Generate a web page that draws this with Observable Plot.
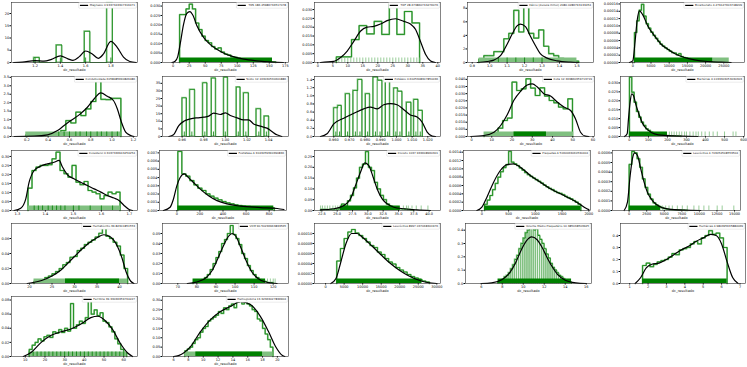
<!DOCTYPE html>
<html><head><meta charset="utf-8">
<script src="https://cdn.jsdelivr.net/npm/d3@7"></script>
<script src="https://cdn.jsdelivr.net/npm/@observablehq/plot@0.6"></script>
<style>
html,body{margin:0;padding:0;background:#fff;}
#root{position:relative;width:747px;height:367px;overflow:hidden;font-family:"DejaVu Sans",sans-serif;}
#root svg{position:absolute;overflow:visible;}
</style></head><body><div id="root"></div>
<script>
// ---------------- DATA ----------------
const legendLabels = [
 "Magnesio 0.9337343307316471","TDS 186.45986736517078","TOF 28.673860733276076",
 "Cálcio (dureza mmol) 2080.0286793133454","Bicarbonato 4.279127603748209",
 "Condutividade 6058485690826486","Sódio 12.163030530601886","Potássio 0.6025308307854436",
 "Cota 12.363860359713719","Bactérias 4.1033303053030303",
 "Colesterol 0.3037336943254254","Fosfatase A 3043059390390836","Cloreto 1037.933608960301",
 "Plaquetas A 5060063060530404","Leucócitos 4.703054508553504",
 "Hematócrito 39.82301851553","VCM 90.50236963833565","Leucócitos 8997.037068301976",
 "Volume Médio Plaquetário 10.385038503925","Hemácias 4.980395635884069",
 "Ferritina 39.33036359764227","Hemoglobina 13.32363027836904"
];
const xLabel = "dc_resultado";

// 1 Magnesio
const p1_xTicks=[1.2,1.4,1.6,1.8], p1_yTicks=[0,5,10,15,20];
const p1_bars=[[1.19,1.2345,2.0],[1.368,1.4125,7.1],[1.5905,1.635,12.7],[1.7685,1.813,24.3]];
const p1_kde=[[1.03,0],[1.1,0.15],[1.2,0.75],[1.27,0.55],[1.33,1.3],[1.4,2.7],[1.46,1.5],[1.5,0.9],[1.55,2.4],[1.6,4.7],[1.65,3.6],[1.7,1.7],[1.74,3.4],[1.8,8.6],[1.85,6.2],[1.9,2.2],[1.95,0.4],[2.0,0]];
const p1_rug=[1.2,1.4,1.6,1.8];

// 2 TDS
const p2_xTicks=[0,25,50,75,100,125,150,175], p2_yTicks=[0,0.005,0.01,0.015,0.02,0.025,0.03];
const p2_bins=[10,5];
const p2_counts=[0.0255,0.0255,0.0285,0.031,0.0285,0.021,0.0175,0.014,0.0117,0.0105,0.0085,0.0072,0.0078,0.0055,0.0045,0.004,0.003,0.0028,0.0022,0.002,0.0017,0.0013,0.0012,0.001,0.0009,0.0008,0.0005,0.0006,0.0004,0.0003];
const p2_kde=[[-2,0],[3,0.0007],[7,0.003],[11,0.01],[16,0.02],[21,0.026],[26,0.0271],[31,0.025],[37,0.0195],[48,0.0131],[58,0.0095],[68,0.007],[80,0.0048],[90,0.0035],[110,0.0018],[130,0.0009],[155,0.0002],[172,0]];
const p2_rugBand=[10,155];

// 3 TOF
const p3_xTicks=[0,5,10,15,20,25,30,35,40], p3_yTicks=[0,0.005,0.01,0.015,0.02,0.025,0.03];
const p3_bins=[6.2,2.52];
const p3_counts=[0.0032,0.0032,0.013,0.0209,0.0162,0.0233,0.0159,0.033,0.0159,0.0289,0.0224];
const p3_kde=[[0.9,0],[5.3,0.0006],[7.6,0.0028],[9.8,0.0065],[12,0.012],[14.2,0.0177],[16.4,0.02],[18.7,0.0205],[20.9,0.0218],[23.1,0.0237],[25.9,0.0248],[28.7,0.0233],[30.9,0.0218],[32.6,0.0187],[34.2,0.012],[35.9,0.0047],[37.6,0.0009],[39.2,0]];
const p3_rug=[6,7,8,9,10,11,12,13,14,15,16,17,18,19,20,21,22,23,24,25,26,27,28,29,30,31,32,33,34];

// 4 Cálcio
const p4_xTicks=[0.9,1.0,1.1,1.2,1.3,1.4,1.5], p4_yTicks=[0,2,4,6,8];
const p4_bins=[0.938,0.0286];
const p4_counts=[0.5,1.0,1.0,1.6,1.6,3.5,4.3,7.7,4.5,8.6,4.3,3.6,4.8,2.4,1.3,1.0,0.6,0.3,0.4,0.2];
const p4_kde=[[0.929,0],[0.986,0.15],[1.024,0.35],[1.062,1.0],[1.1,2.7],[1.129,4.2],[1.157,5.4],[1.176,5.65],[1.205,5.3],[1.233,3.9],[1.262,2.5],[1.29,1.3],[1.329,0.65],[1.386,0.25],[1.462,0.05],[1.51,0]];
const p4_rugLight=[0.94,1.5];
const p4_rug=[1.05,1.1,1.15,1.2,1.25,1.3];

// 5
const p5_xTicks=[0,5000,10000,15000,20000,25000], p5_yTicks=[0,2e-5,4e-5,6e-5,8e-5,10e-5,12e-5,14e-5,16e-5];
const p5_bins=[455,640];
const p5_counts=[8.2e-5,11.4e-5,14.3e-5,15.9e-5,12.7e-5,10.6e-5,9.4e-5,8.3e-5,7.4e-5,6.6e-5,5.8e-5,5.0e-5,4.5e-5,4.0e-5,3.55e-5,3.1e-5,2.7e-5,2.6e-5,2.1e-5,2.4e-5,1.6e-5,1.36e-5,1.2e-5,1.05e-5,0.9e-5,0.76e-5,0.66e-5,0.58e-5,0.5e-5,0.42e-5,0.35e-5,0.27e-5,0.24e-5,0.2e-5,0.17e-5,0.14e-5,0.11e-5,0.09e-5,0.07e-5,0.05e-5];
const p5_kde=[[-915,0],[0,0.45e-5],[641,5.9e-5],[1190,11.4e-5],[1830,14.1e-5],[2747,13e-5],[4120,10e-5],[5950,7.3e-5],[7780,5e-5],[9620,3.6e-5],[11450,2.45e-5],[14200,1.36e-5],[16940,0.73e-5],[20600,0.27e-5],[24270,0.09e-5],[27000,0]];
const p5_rugBand=[455,22000], p5_rugLight=[22000,26500];

// 6
const p6_xTicks=[0.2,0.4,0.6,0.8,1.0,1.2], p6_yTicks=[0,0.5,1,1.5,2,2.5,3,3.5];
const p6_bins=[0.19,0.047];
const p6_counts=[0.1,0.08,0.06,0.05,0.06,0.1,0.15,0.35,0.94,0.8,1.44,1.24,1.63,2.07,3.44,2.2,2.18,2.26,2.26];
const p6_kde=[[0.081,0],[0.269,0.02],[0.394,0.1],[0.488,0.35],[0.55,0.65],[0.613,0.94],[0.691,1.28],[0.769,1.73],[0.831,2.22],[0.894,2.58],[0.956,2.38],[1.013,2.13],[1.05,1.63],[1.088,0.85],[1.128,0.26],[1.175,0.06],[1.206,0]];
const p6_rugLight=[0.19,1.083];
const p6_rug=[0.5,0.55,0.6,0.66,0.7,0.76,0.8,0.86,0.9,0.95,1.0,1.05];

// 7
const p7_xTicks=[0.96,0.98,1.00,1.02,1.04], p7_yTicks=[0,5,10,15,20,25,30,35];
const p7_bars=[[0.96,0.964,25.4],[0.9671,0.9717,30.9],[0.9791,0.9831,35.3],[0.9871,0.9911,38.4],[0.9985,1.0022,39],[1.0102,1.0138,32.5],[1.0169,1.0215,28.7],[1.0286,1.0329,18.2],[1.036,1.0403,13.4]];
const p7_kde=[[0.9477,0],[0.952,1.1],[0.9569,7.2],[0.9615,10],[0.9677,11.6],[0.9738,12.3],[0.98,12.7],[0.9846,13.4],[0.9892,15.4],[0.9954,14.5],[1.0,15.6],[1.0046,13.8],[1.0108,12.3],[1.0169,11],[1.0215,11],[1.0262,8.3],[1.0323,6.8],[1.0385,5.5],[1.0431,3.3],[1.0477,1.1],[1.0523,0]];
const p7_rug=[0.962,0.969,0.981,0.989,1.0,1.012,1.019,1.031,1.038];

// 8
const p8_xTicks=[0.96,0.97,0.98,0.99,1.0,1.01,1.02], p8_yTicks=[0,0.2,0.4,0.6,0.8,1.0,1.2,1.4];
const p8_bars=[[0.96,0.96255,0.705],[0.96255,0.96489,0.762],[0.96745,0.97021,1.05],[0.97234,0.97532,1.13],[0.97532,0.97809,1.40],[0.98021,0.98298,1.05],[0.98511,0.98809,1.46],[0.98809,0.99085,1.38],[0.99298,0.99574,1.40],[0.9983,1.00085,1.19],[1.00085,1.00362,1.11],[1.00638,1.00936,0.84],[1.01106,1.01383,0.91],[1.01383,1.0166,0.64]];
const p8_kde=[[0.9515,0],[0.9557,0.066],[0.96,0.31],[0.9664,0.45],[0.9728,0.57],[0.9791,0.68],[0.9834,0.72],[0.9877,0.68],[0.9919,0.78],[0.9962,0.81],[1.0004,0.78],[1.0047,0.66],[1.0089,0.53],[1.0132,0.48],[1.0164,0.35],[1.0196,0.11],[1.0228,0.01],[1.0249,0]];
const p8_rug=[0.9613,0.9637,0.9688,0.9738,0.9767,0.9816,0.9866,0.9895,0.9944,0.9996,1.0022,1.0079,1.0124,1.0152];

// 9
const p9_xTicks=[0,10,20,30,40,50,60], p9_yTicks=[0,0.005,0.01,0.015,0.02,0.025,0.03,0.035,0.04];
const p9_bins=[6.23,2.295];
const p9_counts=[0.0007,0.0012,0.0026,0.0058,0.0112,0.0129,0.0381,0.0322,0.0334,0.0404,0.0339,0.0287,0.0341,0.0283,0.0252,0.0236,0.0206,0.0194,0.0264];
const p9_kde=[[-0.33,0],[6.2,0.0007],[11.1,0.003],[14.4,0.0077],[17.7,0.0154],[21,0.0255],[24.3,0.0318],[27.5,0.036],[30,0.0369],[32.5,0.0346],[35.7,0.03],[39,0.0283],[42.3,0.0241],[45.6,0.0206],[48.9,0.0182],[51.3,0.0124],[53.8,0.003],[56.2,0.0002],[57.9,0]];
const p9_rugLight=[6.2,50.5], p9_rugBand=[21,37];

// 10
const p10_xTicks=[0,100,200,300,400,500,600], p10_yTicks=[0,0.005,0.01,0.015,0.02,0.025,0.03];
const p10_bins=[0,12.3];
const p10_counts=[0.0332,0.0248,0.0192,0.014,0.0108,0.008,0.0062,0.0043,0.0034,0.0024,0.0019,0.0015,0.0011,0.0009,0.0007,0.0006,0.0005,0.0004,0.0004,0.0003,0.0003,0.0002];
const p10_kde=[[-26,0],[-12,0.0015],[-5,0.0099],[3.5,0.0192],[12.3,0.0239],[21,0.0229],[35,0.0174],[52.6,0.0118],[70,0.0071],[96.5,0.0037],[131.6,0.0015],[184,0.0006],[272,0.0002],[360,0]];
const p10_rugBand=[0,200];
const p10_rugLightTicks=[210,222,235,248,262,275,290,300,318,335,350,362,380,398,420,440,462,500,545,560];

// 11
const p11_xTicks=[1.3,1.4,1.5,1.6,1.7], p11_yTicks=[0,0.05,0.1,0.15,0.2,0.25,0.3];
const p11_bins=[1.338,0.01429];
const p11_counts=[0.124,0.222,0.241,0.25,0.25,0.254,0.287,0.324,0.222,0.204,0.185,0.25,0.157,0.143,0.161,0.111,0.102,0.093,0.065,0.083,0.102,0.093,0.102];
const p11_kde=[[1.288,0],[1.312,0.013],[1.33,0.065],[1.342,0.157],[1.36,0.222],[1.383,0.246],[1.407,0.259],[1.431,0.268],[1.449,0.278],[1.461,0.241],[1.479,0.198],[1.502,0.176],[1.526,0.157],[1.55,0.139],[1.574,0.12],[1.598,0.102],[1.621,0.083],[1.645,0.069],[1.663,0.056],[1.681,0.028],[1.699,0.006],[1.711,0]];
const p11_rugLight=[1.338,1.667];
const p11_rug=[1.36,1.375,1.39,1.41,1.425,1.44,1.455,1.47,1.5,1.52,1.56,1.6,1.64];

// 12
const p12_xTicks=[0,200,400,600,800], p12_yTicks=[0,0.001,0.002,0.003,0.004,0.005,0.006,0.007];
const p12_bins=[8.7,34.8];
const p12_counts=[0.00717,0.00445,0.00417,0.00364,0.00312,0.00271,0.00243,0.00202,0.00174,0.0015,0.0013,0.00109,0.00093,0.00081,0.00069,0.00061,0.00053,0.00049,0.00045,0.0004,0.00036,0.00036,0.00032,0.00032];
const p12_kde=[[-116,0],[-58,0.0004],[-29,0.0014],[0,0.003],[29,0.004],[64,0.00445],[101,0.004],[145,0.0034],[203,0.0026],[275,0.0018],[348,0.0012],[435,0.0008],[551,0.00053],[725,0.00036],[870,0.00024],[928,0.00012]];
const p12_rugBand=[8.7,840];

// 13
const p13_xTicks=[22.5,25,27.5,30,32.5,35,37.5,40], p13_yTicks=[0,0.05,0.1,0.15,0.2,0.25];
const p13_bins=[22.28,0.489];
const p13_counts=[0.005,0.005,0.004,0.005,0.004,0.006,0.008,0.03,0.02,0.045,0.07,0.105,0.15,0.2,0.215,0.273,0.2,0.185,0.13,0.1,0.07,0.05,0.03,0.02,0.015,0.01,0.008,0.007,0.006,0.005,0.003];
const p13_kde=[[22.28,0.003],[24.46,0.008],[26.09,0.023],[27.17,0.054],[27.99,0.116],[28.8,0.177],[29.51,0.221],[30.16,0.208],[30.87,0.154],[31.52,0.1],[32.34,0.054],[33.15,0.031],[34.24,0.015],[35.87,0.008],[38.04,0.003],[40.22,0]];
const p13_rugBand=[25.5,35.3];
const p13_rugLightTicks=[22.3,22.6,23,23.4,23.8,24.3,24.7,25.1,35.8,36.3,36.6,37.2,37.9,38.7,39.8];

// 14
const p14_xTicks=[0,500,1000,1500,2000], p14_yTicks=[0,0.0002,0.0004,0.0006,0.0008,0.001,0.0012,0.0014];
const p14_bins=[50,50];
const p14_counts=[1.5e-4,2.5e-4,3.6e-4,5e-4,6.5e-4,8e-4,9.3e-4,10.3e-4,11e-4,14.2e-4,11.6e-4,11.2e-4,10.8e-4,10.2e-4,9.7e-4,9.1e-4,8.6e-4,8.2e-4,7.8e-4,7.4e-4,7e-4,6.6e-4,6.1e-4,5.7e-4,5.3e-4,5e-4,4.6e-4,4.3e-4,4.1e-4,3.8e-4,3.4e-4,3.1e-4,2.8e-4,2.4e-4,2e-4,1.5e-4];
const p14_kde=[[-94,0],[0,0.00008],[94,0.00032],[219,0.00068],[344,0.00096],[469,0.0011],[594,0.00112],[719,0.00104],[906,0.00084],[1094,0.00068],[1281,0.00052],[1469,0.0004],[1594,0.00032],[1719,0.00024],[1844,0.00014],[1938,0.00006],[2000,0.00002]];
const p14_rugBand=[50,1850];

// 15
const p15_xTicks=[0,2500,5000,7500,10000,12500,15000], p15_yTicks=[0,0.0001,0.0002,0.0003,0.0004,0.0005,0.0006];
const p15_bins=[0,378];
const p15_counts=[4.8e-4,6.15e-4,6.0e-4,5.4e-4,4.5e-4,3.3e-4,2.4e-4,1.7e-4,1.2e-4,0.8e-4,0.55e-4,0.4e-4,0.3e-4,0.2e-4,0.15e-4,0.1e-4,0.08e-4,0.06e-4,0.05e-4,0.04e-4,0.03e-4,0.02e-4];
const p15_kde=[[-710,0],[-236,0.000087],[142,0.00036],[473,0.00054],[804,0.0006],[1183,0.000573],[1656,0.000434],[2129,0.000295],[2600,0.00019],[3311,0.000104],[4257,0.000045],[5440,0.000017],[7800,0.000003],[10200,0]];
const p15_rugBand=[0,4500];
const p15_rugLightTicks=[4730,5200,5680,6150,6860,7570,8280,9220,9930,10640,11350,12530,13240,14900];

// 16
const p16_xTicks=[20,25,30,35,40], p16_yTicks=[0,0.02,0.04,0.06];
const p16_bins=[21,0.8];
const p16_counts=[0.003,0.005,0.004,0.008,0.01,0.013,0.016,0.02,0.025,0.028,0.035,0.036,0.044,0.047,0.052,0.055,0.058,0.062,0.067,0.075,0.063,0.06,0.055,0.05,0.038,0.02];
const p16_kde=[[19.5,0],[22.7,0.004],[25,0.01],[27,0.018],[29,0.03],[31,0.042],[33,0.053],[35,0.061],[36.5,0.065],[38,0.062],[39.5,0.05],[40.5,0.035],[41.5,0.015],[42.5,0.003],[43.2,0]];
const p16_rugLight=[21,41.8], p16_rugBand=[28,40];

// 17
const p17_xTicks=[70,80,90,100,110,120], p17_yTicks=[0,0.01,0.02,0.03,0.04,0.05];
const p17_bins=[78,1.5];
const p17_counts=[0.001,0.002,0.003,0.004,0.006,0.009,0.014,0.02,0.026,0.032,0.04,0.044,0.05,0.058,0.049,0.045,0.039,0.03,0.025,0.018,0.013,0.009,0.006,0.004,0.003,0.002,0.001,0.001];
const p17_kde=[[75,0],[80,0.0015],[85,0.006],[88,0.013],[91,0.025],[94,0.038],[96.5,0.047],[98.5,0.05],[100.5,0.047],[103,0.036],[106,0.022],[109,0.011],[112,0.005],[116,0.0015],[122,0]];
const p17_rugBand=[78,116];
const p17_rugLightTicks=[117,118.5,120,121];

// 18
const p18_xTicks=[0,5000,10000,15000,20000,25000,30000], p18_yTicks=[0,2e-5,4e-5,6e-5,8e-5,10e-5];
const p18_bins=[3000,1000];
const p18_counts=[4.5e-5,7e-5,9e-5,10.3e-5,10.8e-5,10.1e-5,9.6e-5,9e-5,8.3e-5,7.6e-5,7.2e-5,6.3e-5,5.8e-5,5e-5,4.3e-5,3.9e-5,3.2e-5,2.7e-5,2.3e-5,1.8e-5,1.4e-5,1.1e-5,0.8e-5,0.5e-5,0.3e-5];
const p18_kde=[[1400,0],[2800,1e-5],[4000,4e-5],[5500,8e-5],[7000,10e-5],[8500,10e-5],[10000,9.2e-5],[12500,7.5e-5],[15000,5.7e-5],[17500,4e-5],[20000,2.6e-5],[22500,1.5e-5],[25000,0.7e-5],[27500,0.2e-5],[30000,0]];
const p18_rugBand=[3000,26000];

// 19
const p19_xTicks=[6,8,10,12,14,16], p19_yTicks=[0,0.1,0.2,0.3,0.4];
const p19_bins=[7.6,0.2];
const p19_counts=[0.01,0.02,0.03,0.05,0.06,0.08,0.11,0.14,0.18,0.21,0.26,0.3,0.34,0.38,0.4,0.44,0.42,0.4,0.41,0.36,0.33,0.3,0.26,0.22,0.19,0.15,0.12,0.1,0.08,0.06,0.05,0.035,0.025,0.015,0.01];
const p19_kde=[[6,0],[7,0.005],[8,0.03],[8.7,0.08],[9.3,0.16],[9.8,0.25],[10.3,0.32],[10.8,0.35],[11.3,0.33],[11.8,0.27],[12.3,0.19],[12.8,0.12],[13.3,0.065],[14,0.025],[15,0.005],[16,0]];
const p19_rugBand=[7.6,14.6];

// 20
const p20_xTicks=[1,2,3,4,5,6,7], p20_yTicks=[0,0.1,0.2,0.3,0.4];
const p20_bins=[1.7,0.2];
const p20_counts=[0.15,0.17,0.14,0.16,0.18,0.19,0.2,0.22,0.25,0.24,0.28,0.29,0.3,0.33,0.35,0.33,0.38,0.4,0.44,0.41,0.42,0.38,0.3];
const p20_kde=[[1.3,0],[1.6,0.05],[1.9,0.13],[2.2,0.16],[2.6,0.17],[3.0,0.2],[3.4,0.24],[3.8,0.28],[4.2,0.31],[4.6,0.35],[5.0,0.38],[5.4,0.41],[5.7,0.4],[6.0,0.33],[6.3,0.18],[6.6,0.05],[6.9,0]];
const p20_rugBand=[1.7,6.3];

// 21
const p21_xTicks=[10,20,30,40,50,60], p21_yTicks=[0,0.02,0.04,0.06,0.08];
const p21_bins=[12,1.5];
const p21_counts=[0.01,0.016,0.02,0.025,0.022,0.028,0.03,0.027,0.035,0.033,0.038,0.034,0.04,0.036,0.075,0.04,0.045,0.05,0.047,0.055,0.08,0.06,0.066,0.058,0.062,0.05,0.048,0.042,0.035,0.025,0.018,0.01,0.005];
const p21_kde=[[9,0],[13.1,0.006],[18.1,0.02],[23.2,0.03],[28.2,0.035],[33.2,0.039],[38.3,0.046],[43.3,0.055],[46.8,0.057],[50.9,0.05],[54.4,0.038],[58.4,0.018],[62,0.005],[64.5,0]];
const p21_rugLight=[12,61.5];
const p21_rug=[12,14,16,18,20,22,24,26,28,30,32,34,36,38,40,42,44,46,48,50,52,54,56,58,60];

// 22
const p22_xTicks=[6,8,10,12,14,16,18,20], p22_yTicks=[0,0.05,0.1,0.15,0.2,0.25,0.3];
const p22_bins=[7.5,0.35];
const p22_counts=[0.03,0.04,0.05,0.07,0.09,0.1,0.13,0.15,0.16,0.19,0.2,0.21,0.22,0.24,0.23,0.26,0.25,0.27,0.28,0.26,0.29,0.31,0.28,0.3,0.28,0.27,0.25,0.24,0.2,0.19,0.15,0.12,0.09,0.05];
const p22_kde=[[6,0],[6.66,0.005],[8.28,0.053],[9.63,0.133],[10.98,0.197],[12.33,0.24],[13.67,0.267],[15.02,0.293],[16.37,0.277],[17.72,0.213],[18.8,0.133],[19.75,0.053],[20.69,0.005],[21,0]];
const p22_rugLight=[7.5,19.4], p22_rugBand=[9,18];

// ---------------- PANEL SPECS (scales) ----------------
const panels=[
 {xd:[1.013,2.011],yd:[0,24.5],xt:p1_xTicks,yt:p1_yTicks,xf:".1f",yf:"d",bars:p1_bars,kde:p1_kde,rug:p1_rug},
 {xd:[-16.7,180],yd:[0,0.0319],xt:p2_xTicks,yt:p2_yTicks,xf:"d",yf:".3f",bins:p2_bins,counts:p2_counts,kde:p2_kde,band:p2_rugBand},
 {xd:[-1.1,40.9],yd:[0,0.034],xt:p3_xTicks,yt:p3_yTicks,xf:"d",yf:".3f",bins:p3_bins,counts:p3_counts,kde:p3_kde,rugL:p3_rug},
 {xd:[0.873,1.595],yd:[0,8.85],xt:p4_xTicks,yt:p4_yTicks,xf:".1f",yf:"d",bins:p4_bins,counts:p4_counts,kde:p4_kde,light:p4_rugLight,rug:p4_rug},
 {xd:[-3380,30690],yd:[0,0.000164],xt:p5_xTicks,yt:p5_yTicks,xf:"d",yf:".5f",bins:p5_bins,counts:p5_counts,kde:p5_kde,band:p5_rugBand,light:p5_rugLight},
 {xd:[0.056,1.239],yd:[0,3.55],xt:p6_xTicks,yt:p6_yTicks,xf:".1f",yf:".1f",bins:p6_bins,counts:p6_counts,kde:p6_kde,light:p6_rugLight,rug:p6_rug},
 {xd:[0.9418,1.0585],yd:[0,39.5],xt:p7_xTicks,yt:p7_yTicks,xf:".2f",yf:"d",bars:p7_bars,kde:p7_kde,rug:p7_rug},
 {xd:[0.9477,1.0281],yd:[0,1.475],xt:p8_xTicks,yt:p8_yTicks,xf:".3f",yf:".1f",bars:p8_bars,kde:p8_kde,rug:p8_rug},
 {xd:[-1.97,60.7],yd:[0,0.042],xt:p9_xTicks,yt:p9_yTicks,xf:"d",yf:".3f",bins:p9_bins,counts:p9_counts,kde:p9_kde,light:p9_rugLight,band:p9_rugBand},
 {xd:[-47,605],yd:[0,0.0336],xt:p10_xTicks,yt:p10_yTicks,xf:"d",yf:".3f",bins:p10_bins,counts:p10_counts,kde:p10_kde,band:p10_rugBand,rugL:p10_rugLightTicks},
 {xd:[1.279,1.729],yd:[0,0.333],xt:p11_xTicks,yt:p11_yTicks,xf:".1f",yf:".2f",bins:p11_bins,counts:p11_counts,kde:p11_kde,light:p11_rugLight,rug:p11_rug},
 {xd:[-150,950],yd:[0,0.00729],xt:p12_xTicks,yt:p12_yTicks,xf:"d",yf:".3f",bins:p12_bins,counts:p12_counts,kde:p12_kde,band:p12_rugBand},
 {xd:[21.3,41.85],yd:[0,0.278],xt:p13_xTicks,yt:p13_yTicks,xf:".1f",yf:".2f",bins:p13_bins,counts:p13_counts,kde:p13_kde,band:p13_rugBand,rugL:p13_rugLightTicks},
 {xd:[-344,2031],yd:[0,0.00144],xt:p14_xTicks,yt:p14_yTicks,xf:"d",yf:".4f",bins:p14_bins,counts:p14_counts,kde:p14_kde,band:p14_rugBand},
 {xd:[-2367,15850],yd:[0,0.000625],xt:p15_xTicks,yt:p15_yTicks,xf:"d",yf:".4f",bins:p15_bins,counts:p15_counts,kde:p15_kde,band:p15_rugBand,rugL:p15_rugLightTicks},
 {xd:[16,44],yd:[0,0.08],xt:p16_xTicks,yt:p16_yTicks,xf:"d",yf:".2f",bins:p16_bins,counts:p16_counts,kde:p16_kde,light:p16_rugLight,band:p16_rugBand},
 {xd:[62,128],yd:[0,0.06],xt:p17_xTicks,yt:p17_yTicks,xf:"d",yf:".2f",bins:p17_bins,counts:p17_counts,kde:p17_kde,band:p17_rugBand,rugL:p17_rugLightTicks},
 {xd:[-3000,31000],yd:[0,0.00012],xt:p18_xTicks,yt:p18_yTicks,xf:"d",yf:".5f",bins:p18_bins,counts:p18_counts,kde:p18_kde,band:p18_rugBand},
 {xd:[4.5,16.5],yd:[0,0.45],xt:p19_xTicks,yt:p19_yTicks,xf:"d",yf:".1f",bins:p19_bins,counts:p19_counts,kde:p19_kde,band:p19_rugBand,rects:true},
 {xd:[0.5,7.3],yd:[0,0.5],xt:p20_xTicks,yt:p20_yTicks,xf:"d",yf:".1f",bins:p20_bins,counts:p20_counts,kde:p20_kde,band:p20_rugBand},
 {xd:[3,67],yd:[0,0.085],xt:p21_xTicks,yt:p21_yTicks,xf:"d",yf:".2f",bins:p21_bins,counts:p21_counts,kde:p21_kde,light:p21_rugLight,rug:p21_rug},
 {xd:[4.5,21.5],yd:[0,0.32],xt:p22_xTicks,yt:p22_yTicks,xf:"d",yf:".2f",bins:p22_bins,counts:p22_counts,kde:p22_kde,light:p22_rugLight,band:p22_rugBand}
];

// ---------------- LAYOUT (frame boxes in page px) ----------------
const frames=[
 [11,137,2,62],[162,288,2,62],[314,440,2,62],[467,593,2,62],[620,744,2,62],
 [11,137,76,136],[162,288,76,136],[314,440,76,136],[467,594,76,136],[620,744,76,136],
 [11,137,150,210],[159,286,150,210],[314,440,150,210],[463,590,150,210],[612,740,150,210],
 [11,137,223,283],[162,288,223,283],[314,440,223,283],[465,591,223,283],[620,745,223,283],
 [11,137,296,356],[162,288,296,356]
];

// ---------------- RENDER ----------------
const DARK="#008000", LIGHT="#80c080";
const root=document.getElementById("root");
const RUG=4.5, FS=3.5;

function binTable(p){
  if(p.bars) return p.bars.map(([x1,x2,y])=>({x1,x2,y}));
  const [x0,w]=p.bins;
  return p.counts.map((y,i)=>({x1:x0+i*w,x2:x0+(i+1)*w,y}));
}
function stepTable(bins){
  const pts=[]; let prev=null;
  for(const b of bins){
    if(prev===null||Math.abs(b.x1-prev)>1e-12){ if(prev!==null) pts.push({x:prev,y:0}); pts.push({x:b.x1,y:0}); }
    pts.push({x:b.x1,y:b.y}); pts.push({x:b.x2,y:b.y}); prev=b.x2;
  }
  pts.push({x:prev,y:0});
  return pts;
}

panels.forEach((p,i)=>{
  const [fx0,fx1,fy0,fy1]=frames[i];
  const ML=28,MR=3,MT=3,MB=14;
  const W=fx1-fx0,H=fy1-fy0;
  const bins=binTable(p);
  const steps=stepTable(bins);
  const marks=[];
  if(p.bars||p.rects) marks.push(Plot.rect(bins,{x1:"x1",x2:"x2",y1:0,y2:"y",fill:"none",stroke:LIGHT,strokeWidth:1.2}));
  else marks.push(Plot.line(steps,{x:"x",y:"y",stroke:LIGHT,strokeWidth:1.7}));
  marks.push(Plot.line(steps,{x:"x",y:"y",stroke:DARK,strokeWidth:0.7}));
  if(p.light) marks.push(Plot.rect([p.light],{x1:d=>d[0],x2:d=>d[1],fill:LIGHT,insetTop:H-RUG}));
  if(p.band) marks.push(Plot.rect([p.band],{x1:d=>d[0],x2:d=>d[1],fill:DARK,insetTop:H-RUG}));
  if(p.rugL) marks.push(Plot.ruleX(p.rugL,{x:d=>d,stroke:LIGHT,strokeWidth:0.8,insetTop:H-RUG}));
  if(p.rug) marks.push(Plot.ruleX(p.rug,{x:d=>d,stroke:DARK,strokeWidth:0.8,insetTop:H-RUG}));
  marks.push(Plot.line(p.kde,{x:d=>d[0],y:d=>d[1],curve:"monotone-x",stroke:"black",strokeWidth:1.2}));
  marks.push(Plot.axisX({ticks:p.xt,tickFormat:d3.format(p.xf),tickSize:1.5,tickPadding:0.6,fontSize:FS,label:null}));
  marks.push(Plot.axisY({ticks:p.yt,tickFormat:d3.format(p.yf),tickSize:1.5,tickPadding:0.8,fontSize:FS,label:null}));
  marks.push(Plot.frame({stroke:"#333",strokeWidth:0.6}));
  marks.push(Plot.text([xLabel],{frameAnchor:"bottom",dy:8.6,fontSize:FS,fill:"#222"}));
  marks.push(Plot.text([legendLabels[i]],{frameAnchor:"top-right",dx:-2.4,dy:1.9,textAnchor:"end",lineAnchor:"top",fontSize:2.8,fill:"#222"}));
  const svg=Plot.plot({
    width:W+ML+MR,height:H+MT+MB,marginLeft:ML,marginRight:MR,marginTop:MT,marginBottom:MB,
    x:{domain:p.xd,nice:false},y:{domain:p.yd,nice:false},
    style:{fontSize:FS+"px",fontFamily:"DejaVu Sans, sans-serif",background:"transparent",overflow:"visible"},
    marks
  });
  svg.style.left=(fx0-ML)+"px"; svg.style.top=(fy0-MT)+"px";
  root.appendChild(svg);
  // legend box + line sample
  const groups=svg.querySelectorAll('g[aria-label="text"]');
  const lg=groups[groups.length-1];
  const t=lg.querySelector("text");
  const r=t.getBoundingClientRect(), s=svg.getBoundingClientRect();
  const x0=r.left-s.left, y0=r.top-s.top, x1=r.right-s.left, y1=r.bottom-s.top;
  const ns="http://www.w3.org/2000/svg";
  const box=document.createElementNS(ns,"rect");
  box.setAttribute("x",x0-11); box.setAttribute("y",y0-0.8);
  box.setAttribute("width",x1-x0+12); box.setAttribute("height",y1-y0+1.6);
  box.setAttribute("fill","white"); box.setAttribute("stroke","#ccc"); box.setAttribute("stroke-width","0.4"); box.setAttribute("rx","0.6");
  svg.insertBefore(box,lg);
  const ln=document.createElementNS(ns,"line");
  ln.setAttribute("x1",x0-9.8); ln.setAttribute("x2",x0-1.6);
  ln.setAttribute("y1",(y0+y1)/2); ln.setAttribute("y2",(y0+y1)/2);
  ln.setAttribute("stroke","black"); ln.setAttribute("stroke-width","1.2");
  svg.insertBefore(ln,lg);
});
</script></body></html>
